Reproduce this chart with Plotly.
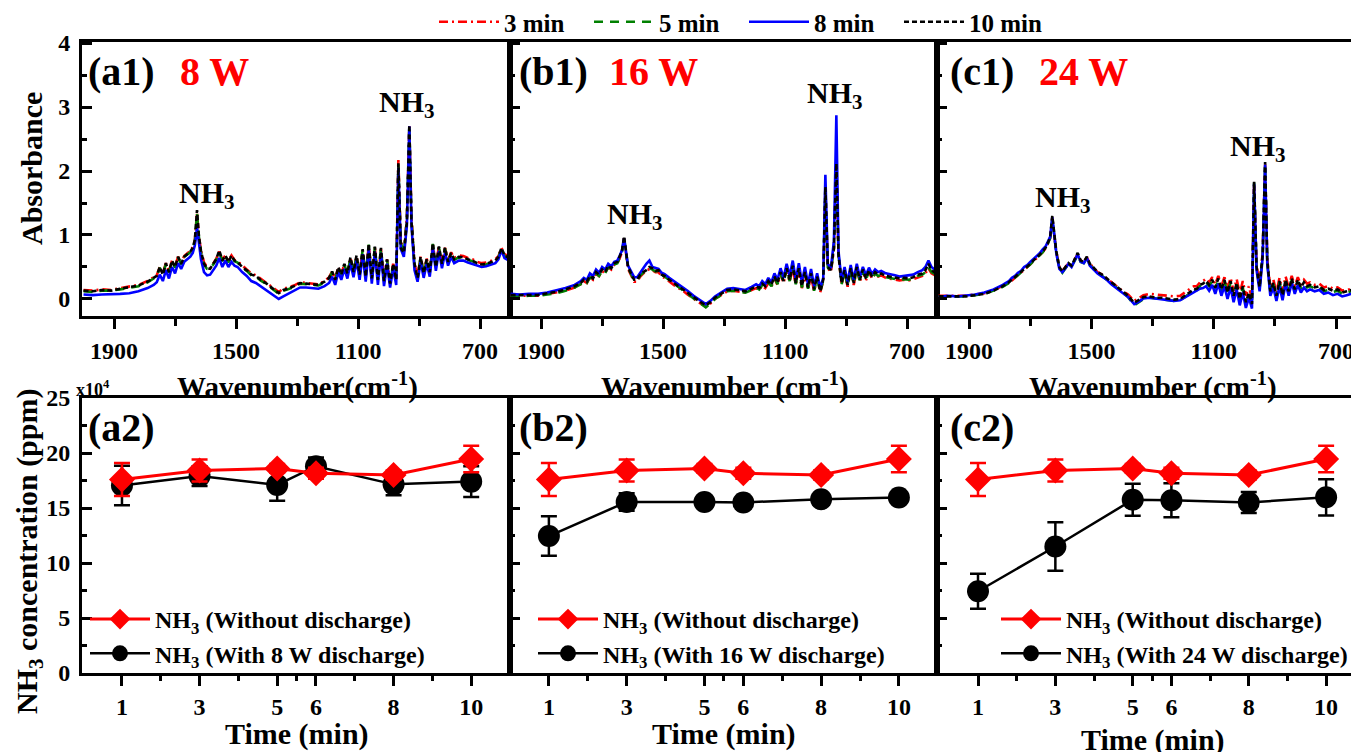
import plotly.graph_objects as go

# ---------------- data ----------------
wavenumber = [
    2000, 1970, 1940, 1910, 1880, 1850, 1820, 1790,
    1770, 1760, 1750, 1740, 1730, 1720, 1710, 1700, 1690, 1680, 1670, 1660, 1650, 1642, 1635,
    1628, 1622, 1615, 1605, 1595, 1585, 1575, 1565, 1555, 1545, 1535, 1525, 1515, 1505, 1495, 1480, 1465, 1450, 1435, 1420,
    1400, 1380, 1360, 1345, 1330, 1310, 1290, 1270, 1250, 1230, 1210,
    1195, 1185, 1175, 1165, 1155, 1145, 1135, 1125, 1115, 1105, 1095, 1085, 1075, 1065, 1055, 1045, 1035, 1025, 1015, 1005, 995, 985, 975,
    968, 960, 950, 940, 932, 925, 915,
    905, 895, 885, 875, 865, 855, 845, 835, 825, 815, 805, 795, 785,
    770, 755, 740, 725, 710, 695, 680, 665, 650, 640, 630, 620, 605,
]

# (a1) 8 W spectra
a1_3min = [
    0.14, 0.13, 0.15, 0.14, 0.17, 0.19, 0.22, 0.28,
    0.34, 0.37, 0.5, 0.4, 0.56, 0.43, 0.6, 0.51, 0.66, 0.56, 0.67, 0.71, 0.75, 0.81, 0.92,
    1.35, 0.98, 0.76, 0.57, 0.5, 0.48, 0.55, 0.63, 0.74, 0.61, 0.68, 0.6, 0.68, 0.61, 0.59, 0.52, 0.46, 0.4, 0.37, 0.32,
    0.25, 0.17, 0.11, 0.16, 0.18, 0.21, 0.26, 0.25, 0.24, 0.23, 0.28,
    0.34, 0.43, 0.31, 0.5, 0.38, 0.55, 0.41, 0.64, 0.42, 0.67, 0.39, 0.76, 0.36, 0.84, 0.33, 0.8, 0.31, 0.78, 0.29, 0.62, 0.26, 0.55, 0.32,
    2.17, 0.92, 0.74, 1.28, 2.7, 1.28, 0.55,
    0.35, 0.66, 0.42, 0.63, 0.44, 0.85, 0.52, 0.82, 0.57, 0.8, 0.6, 0.73, 0.64,
    0.68, 0.67, 0.64, 0.62, 0.58, 0.56, 0.57, 0.6, 0.62, 0.67, 0.8, 0.7, 0.66,
]
a1_5min = [
    0.12, 0.11, 0.13, 0.13, 0.15, 0.17, 0.2, 0.26,
    0.32, 0.35, 0.49, 0.37, 0.55, 0.41, 0.59, 0.49, 0.65, 0.54, 0.66, 0.69, 0.73, 0.79, 0.9,
    1.33, 0.98, 0.73, 0.54, 0.47, 0.46, 0.54, 0.61, 0.73, 0.59, 0.67, 0.57, 0.67, 0.59, 0.57, 0.49, 0.44, 0.37, 0.35, 0.29,
    0.23, 0.15, 0.08, 0.13, 0.15, 0.19, 0.24, 0.23, 0.22, 0.21, 0.26,
    0.32, 0.42, 0.29, 0.49, 0.37, 0.54, 0.39, 0.64, 0.41, 0.67, 0.37, 0.77, 0.34, 0.85, 0.31, 0.81, 0.29, 0.79, 0.27, 0.61, 0.23, 0.54, 0.29,
    2.1, 0.88, 0.71, 1.25, 2.71, 1.25, 0.5,
    0.32, 0.65, 0.39, 0.61, 0.41, 0.86, 0.49, 0.81, 0.54, 0.79, 0.57, 0.71, 0.61,
    0.65, 0.64, 0.61, 0.59, 0.55, 0.53, 0.54, 0.57, 0.59, 0.65, 0.79, 0.67, 0.63,
]
a1_8min = [
    0.07, 0.06, 0.07, 0.07, 0.08, 0.09, 0.12, 0.17,
    0.22, 0.26, 0.38, 0.28, 0.45, 0.32, 0.5, 0.4, 0.56, 0.47, 0.58, 0.62, 0.66, 0.72, 0.84,
    1.12, 0.9, 0.62, 0.42, 0.37, 0.38, 0.46, 0.52, 0.64, 0.5, 0.6, 0.5, 0.58, 0.52, 0.5, 0.42, 0.36, 0.28, 0.25, 0.2,
    0.14, 0.06, 0.0, 0.04, 0.08, 0.13, 0.18, 0.18, 0.17, 0.16, 0.2,
    0.25, 0.35, 0.22, 0.42, 0.3, 0.47, 0.32, 0.56, 0.34, 0.6, 0.3, 0.7, 0.27, 0.78, 0.24, 0.74, 0.22, 0.72, 0.2, 0.55, 0.18, 0.48, 0.22,
    2.05, 0.78, 0.66, 1.15, 2.7, 1.15, 0.45,
    0.27, 0.58, 0.33, 0.55, 0.35, 0.8, 0.44, 0.75, 0.48, 0.72, 0.52, 0.66, 0.56,
    0.6, 0.6, 0.57, 0.55, 0.52, 0.5, 0.51, 0.54, 0.56, 0.62, 0.76, 0.64, 0.6,
]
a1_10min = [
    0.13, 0.12, 0.14, 0.13, 0.16, 0.18, 0.21, 0.27,
    0.33, 0.36, 0.5, 0.38, 0.56, 0.42, 0.6, 0.5, 0.66, 0.55, 0.66, 0.7, 0.74, 0.8, 0.92,
    1.39, 1.0, 0.75, 0.55, 0.48, 0.47, 0.55, 0.62, 0.76, 0.6, 0.68, 0.58, 0.68, 0.6, 0.58, 0.5, 0.45, 0.38, 0.36, 0.3,
    0.24, 0.16, 0.09, 0.14, 0.16, 0.2, 0.25, 0.24, 0.23, 0.22, 0.27,
    0.33, 0.43, 0.3, 0.5, 0.38, 0.55, 0.4, 0.65, 0.42, 0.68, 0.38, 0.78, 0.35, 0.86, 0.32, 0.82, 0.3, 0.8, 0.28, 0.62, 0.24, 0.55, 0.3,
    2.12, 0.8, 0.72, 1.2, 2.72, 1.2, 0.55,
    0.33, 0.66, 0.4, 0.62, 0.42, 0.87, 0.5, 0.82, 0.55, 0.8, 0.58, 0.72, 0.62,
    0.66, 0.65, 0.62, 0.6, 0.56, 0.54, 0.55, 0.58, 0.6, 0.66, 0.8, 0.68, 0.64,
]

# (b1) 16 W spectra
b1_3min = [
    0.05, 0.05, 0.06, 0.05, 0.08, 0.1, 0.13, 0.18,
    0.23, 0.28, 0.25, 0.34, 0.3, 0.4, 0.36, 0.44, 0.4, 0.5, 0.46, 0.54, 0.56, 0.64, 0.73,
    0.95, 0.7, 0.47, 0.37, 0.27, 0.27, 0.35, 0.4, 0.43, 0.47, 0.45, 0.42, 0.42, 0.35, 0.33, 0.27, 0.22, 0.17, 0.13, 0.07,
    0.0, -0.06, -0.12, -0.07, 0.0, 0.06, 0.12, 0.13, 0.12, 0.1, 0.14,
    0.17, 0.14, 0.21, 0.17, 0.25, 0.19, 0.32, 0.22, 0.39, 0.25, 0.45, 0.27, 0.49, 0.22, 0.45, 0.17, 0.39, 0.15, 0.37, 0.12, 0.32, 0.1, 0.28,
    1.72, 0.48, 0.42, 0.78, 2.1, 0.68, 0.22,
    0.42, 0.19, 0.45, 0.22, 0.47, 0.27, 0.43, 0.29, 0.42, 0.32, 0.39, 0.35, 0.37,
    0.33, 0.32, 0.3, 0.29, 0.3, 0.29, 0.31, 0.34, 0.36, 0.4, 0.48, 0.4, 0.36,
]
b1_5min = [
    0.05, 0.04, 0.05, 0.05, 0.07, 0.09, 0.13, 0.18,
    0.23, 0.28, 0.25, 0.34, 0.3, 0.4, 0.36, 0.44, 0.4, 0.5, 0.46, 0.54, 0.56, 0.64, 0.73,
    0.96, 0.71, 0.49, 0.39, 0.29, 0.29, 0.37, 0.41, 0.44, 0.48, 0.46, 0.43, 0.44, 0.37, 0.35, 0.29, 0.24, 0.19, 0.14, 0.08,
    0.01, -0.06, -0.13, -0.07, 0.0, 0.06, 0.12, 0.13, 0.12, 0.1, 0.14,
    0.18, 0.15, 0.22, 0.18, 0.26, 0.2, 0.33, 0.23, 0.4, 0.26, 0.46, 0.28, 0.5, 0.23, 0.46, 0.18, 0.4, 0.16, 0.38, 0.13, 0.33, 0.11, 0.29,
    1.74, 0.49, 0.43, 0.79, 2.11, 0.69, 0.23,
    0.43, 0.2, 0.46, 0.23, 0.48, 0.28, 0.44, 0.3, 0.43, 0.33, 0.4, 0.36, 0.38,
    0.34, 0.33, 0.31, 0.3, 0.31, 0.3, 0.32, 0.36, 0.38, 0.42, 0.5, 0.42, 0.38,
]
b1_8min = [
    0.08, 0.07, 0.08, 0.08, 0.1, 0.13, 0.17, 0.22,
    0.28, 0.33, 0.3, 0.4, 0.36, 0.46, 0.41, 0.5, 0.46, 0.55, 0.51, 0.58, 0.6, 0.68, 0.76,
    0.95, 0.72, 0.52, 0.43, 0.34, 0.34, 0.42, 0.48, 0.55, 0.6, 0.5, 0.48, 0.47, 0.41, 0.39, 0.33, 0.28, 0.23, 0.19, 0.13,
    0.05, -0.02, -0.08, -0.03, 0.04, 0.1, 0.16, 0.17, 0.16, 0.14, 0.19,
    0.23, 0.2, 0.28, 0.23, 0.33, 0.26, 0.4, 0.3, 0.48, 0.33, 0.55, 0.36, 0.6, 0.3, 0.56, 0.26, 0.5, 0.23, 0.47, 0.2, 0.4, 0.17, 0.33,
    1.94, 0.55, 0.48, 0.9, 2.87, 0.75, 0.28,
    0.5, 0.26, 0.53, 0.3, 0.55, 0.34, 0.5, 0.37, 0.49, 0.39, 0.46, 0.42, 0.44,
    0.4, 0.39, 0.37, 0.35, 0.36, 0.36, 0.38, 0.42, 0.45, 0.5, 0.6, 0.5, 0.44,
]
b1_10min = [
    0.06, 0.06, 0.07, 0.06, 0.09, 0.11, 0.15, 0.2,
    0.25, 0.3, 0.27, 0.36, 0.32, 0.42, 0.38, 0.46, 0.42, 0.52, 0.48, 0.56, 0.58, 0.66, 0.75,
    0.98, 0.72, 0.5, 0.4, 0.3, 0.3, 0.38, 0.42, 0.45, 0.5, 0.48, 0.44, 0.45, 0.38, 0.36, 0.3, 0.25, 0.2, 0.16, 0.1,
    0.03, -0.04, -0.1, -0.05, 0.02, 0.08, 0.14, 0.15, 0.14, 0.12, 0.16,
    0.2, 0.17, 0.24, 0.2, 0.28, 0.22, 0.35, 0.25, 0.42, 0.28, 0.48, 0.3, 0.52, 0.25, 0.48, 0.2, 0.42, 0.18, 0.4, 0.15, 0.35, 0.12, 0.3,
    1.75, 0.5, 0.45, 0.8, 2.12, 0.7, 0.25,
    0.45, 0.22, 0.48, 0.25, 0.5, 0.3, 0.46, 0.32, 0.45, 0.35, 0.42, 0.38, 0.4,
    0.36, 0.35, 0.33, 0.32, 0.33, 0.32, 0.34, 0.38, 0.4, 0.45, 0.55, 0.45, 0.4,
]

# (c1) 24 W spectra
c1_3min = [
    0.05, 0.05, 0.06, 0.05, 0.07, 0.09, 0.14, 0.2,
    0.25, 0.29, 0.33, 0.37, 0.41, 0.45, 0.49, 0.54, 0.59, 0.63, 0.68, 0.73, 0.79, 0.87, 0.95,
    1.27, 0.98, 0.74, 0.5, 0.44, 0.5, 0.56, 0.53, 0.62, 0.7, 0.6, 0.58, 0.65, 0.55, 0.5, 0.42, 0.38, 0.32, 0.26, 0.2,
    0.13, 0.07, -0.03, 0.01, 0.06, 0.08, 0.07, 0.07, 0.05, 0.04, 0.05,
    0.1, 0.13, 0.17, 0.2, 0.2, 0.26, 0.28, 0.32, 0.26, 0.34, 0.23, 0.36, 0.2, 0.34, 0.16, 0.33, 0.12, 0.31, 0.08, 0.28, 0.05, 0.2, 0.0,
    1.8, 0.52, 0.24, 0.72, 2.1, 0.62, 0.18,
    0.3, 0.1, 0.33, 0.12, 0.35, 0.18, 0.36, 0.2, 0.34, 0.22, 0.3, 0.24, 0.26,
    0.22, 0.24, 0.18, 0.2, 0.16, 0.18, 0.13, 0.14, 0.16, 0.22, 0.3, 0.34, 0.34,
]
c1_5min = [
    0.04, 0.04, 0.05, 0.04, 0.06, 0.08, 0.13, 0.19,
    0.25, 0.29, 0.33, 0.37, 0.41, 0.45, 0.49, 0.54, 0.59, 0.63, 0.68, 0.73, 0.79, 0.87, 0.95,
    1.25, 0.97, 0.73, 0.48, 0.41, 0.48, 0.54, 0.51, 0.6, 0.68, 0.58, 0.56, 0.63, 0.53, 0.48, 0.4, 0.36, 0.3, 0.24, 0.18,
    0.1, 0.03, -0.1, -0.05, 0.0, 0.02, 0.01, 0.0, -0.02, -0.03, -0.02,
    0.03, 0.06, 0.1, 0.13, 0.14, 0.2, 0.22, 0.26, 0.2, 0.28, 0.16, 0.3, 0.13, 0.28, 0.08, 0.26, 0.03, 0.23, -0.02, 0.18, -0.07, 0.08, -0.1,
    1.82, 0.48, 0.17, 0.68, 2.12, 0.58, 0.1,
    0.23, 0.03, 0.26, 0.04, 0.28, 0.1, 0.3, 0.13, 0.28, 0.16, 0.24, 0.18, 0.2,
    0.16, 0.18, 0.12, 0.14, 0.11, 0.13, 0.08, 0.1, 0.12, 0.18, 0.28, 0.38, 0.37,
]
c1_8min = [
    0.03, 0.05, 0.04, 0.05, 0.07, 0.1, 0.15, 0.22,
    0.28, 0.33, 0.36, 0.41, 0.44, 0.5, 0.53, 0.58, 0.62, 0.66, 0.71, 0.77, 0.82, 0.9, 0.97,
    1.28, 0.98, 0.72, 0.47, 0.42, 0.48, 0.55, 0.5, 0.6, 0.7, 0.58, 0.56, 0.64, 0.52, 0.47, 0.4, 0.35, 0.3, 0.23, 0.17,
    0.1, 0.03, -0.08, -0.04, 0.01, 0.02, 0.01, 0.0, -0.02, -0.03, -0.02,
    0.02, 0.05, 0.08, 0.1, 0.12, 0.16, 0.17, 0.2, 0.13, 0.22, 0.08, 0.24, 0.05, 0.2, 0.0, 0.18, -0.05, 0.15, -0.1, 0.1, -0.14, 0.02, -0.15,
    1.8, 0.45, 0.12, 0.65, 2.1, 0.55, 0.05,
    0.18, -0.03, 0.2, -0.02, 0.24, 0.05, 0.26, 0.08, 0.22, 0.1, 0.18, 0.12, 0.15,
    0.12, 0.14, 0.08, 0.1, 0.06, 0.08, 0.04, 0.06, 0.08, 0.14, 0.24, 0.3, 0.3,
]
c1_10min = [
    0.04, 0.04, 0.05, 0.04, 0.06, 0.08, 0.13, 0.2,
    0.26, 0.3, 0.34, 0.38, 0.42, 0.46, 0.5, 0.55, 0.6, 0.64, 0.69, 0.74, 0.8, 0.88, 0.96,
    1.3, 1.0, 0.75, 0.5, 0.43, 0.5, 0.56, 0.52, 0.62, 0.72, 0.6, 0.58, 0.66, 0.55, 0.5, 0.42, 0.38, 0.32, 0.26, 0.2,
    0.12, 0.05, -0.06, -0.02, 0.03, 0.04, 0.02, 0.02, 0.0, -0.01, 0.0,
    0.05, 0.08, 0.12, 0.15, 0.16, 0.22, 0.24, 0.28, 0.22, 0.3, 0.18, 0.32, 0.15, 0.3, 0.1, 0.28, 0.05, 0.25, 0.0, 0.2, -0.05, 0.1, -0.08,
    1.83, 0.5, 0.19, 0.7, 2.14, 0.6, 0.12,
    0.25, 0.05, 0.28, 0.06, 0.3, 0.12, 0.32, 0.15, 0.3, 0.18, 0.26, 0.2, 0.22,
    0.18, 0.2, 0.14, 0.16, 0.13, 0.15, 0.1, 0.12, 0.14, 0.2, 0.3, 0.35, 0.35,
]

# NH3 concentration (x10^4 ppm) vs time
time_min = [1, 3, 5, 6, 8, 10]
no_discharge = [17.6, 18.4, 18.6, 18.15, 18.0, 19.45]
no_discharge_err = [1.5, 1.0, 0.4, 0.5, 0.4, 1.2]
w8_conc = [17.05, 17.9, 17.1, 18.8, 17.15, 17.4]
w8_err = [1.8, 0.9, 1.45, 0.8, 1.0, 1.4]
w16_conc = [12.45, 15.55, 15.55, 15.5, 15.8, 15.95]
w16_err = [1.8, 0.8, 0.5, 0.5, 0.5, 0.5]
w24_conc = [7.43, 11.5, 15.75, 15.7, 15.5, 15.97]
w24_err = [1.6, 2.2, 1.45, 1.55, 0.95, 1.65]

time_labels = ["1", "3", "5", "6", "8", "10"]
wn_ticks = [1900, 1500, 1100, 700]

# ---------------- layout helpers ----------------
# the page body has an 8 px margin, so the figure is drawn 8 px smaller
W, H = 1351, 744
L, R, T, B = 74, 0, 34, 79
PW, PH = W - L - R, H - T - B
FONT = "Liberation Serif, Times New Roman, serif"


def px(x):  # screen x (reference pixels) -> paper
    return (x - 82) / PW


def py(y):  # screen y (reference pixels) -> paper
    return (673 - y) / PH


col_dom = [[0, px(510)], [px(510), px(937)], [px(937), 1.0]]
top_dom = [py(316), 1.0]
bot_dom = [0.0, py(398)]

fig = go.Figure()

spec_style = [
    ("3 min", "red", "9px,4px,2px,4px"),
    ("5 min", "green", "9px,7px"),
    ("8 min", "blue", "solid"),
    ("10 min", "black", "5px,3px"),
]
spectra = [
    [a1_3min, a1_5min, a1_8min, a1_10min],
    [b1_3min, b1_5min, b1_8min, b1_10min],
    [c1_3min, c1_5min, c1_8min, c1_10min],
]
for p, series in enumerate(spectra):
    ax = "" if p == 0 else str(p + 1)
    for (name, color, dash), vals in zip(spec_style, series):
        fig.add_trace(go.Scatter(
            x=wavenumber, y=vals, mode="lines", name=name,
            line=dict(color=color, width=2.6, dash=dash),
            xaxis="x" + ax, yaxis="y" + ax,
            showlegend=(p == 0), legend="legend",
        ))

conc_sets = [(w8_conc, w8_err, "8"), (w16_conc, w16_err, "16"), (w24_conc, w24_err, "24")]
for p, (vals, errs, watt) in enumerate(conc_sets):
    ax = str(p + 4)
    lg = "legend" + str(p + 2)
    fig.add_trace(go.Scatter(
        x=time_min, y=vals, mode="lines+markers",
        name="NH<sub>3</sub> (With %s W discharge)" % watt,
        line=dict(color="black", width=2.5),
        marker=dict(symbol="circle", size=22, color="black"),
        error_y=dict(type="data", array=errs, visible=True, color="black", thickness=2.5, width=8),
        xaxis="x" + ax, yaxis="y" + ax, legend=lg, legendrank=2,
    ))
    fig.add_trace(go.Scatter(
        x=time_min, y=no_discharge, mode="lines+markers",
        name="NH<sub>3</sub> (Without discharge)",
        line=dict(color="red", width=3),
        marker=dict(symbol="diamond", size=20, color="red"),
        error_y=dict(type="data", array=no_discharge_err, visible=True, color="red", thickness=2.5, width=8),
        xaxis="x" + ax, yaxis="y" + ax, legend=lg, legendrank=1,
    ))

tickfont = dict(family=FONT, size=24, color="black", weight="bold")
base_axis = dict(showline=True, linewidth=3, linecolor="black", showgrid=False,
                 zeroline=False, tickwidth=3, tickcolor="black", tickfont=tickfont)

x_top_ranges = [[2005, 602], [2002, 602], [2005, 625]]
x_bot_ranges = [[-0.03, 11.0], [0.0, 10.98], [-0.06, 10.85]]
layout_axes = {}
for i in range(3):
    n = "" if i == 0 else str(i + 1)
    layout_axes["xaxis" + n] = dict(
        base_axis, domain=col_dom[i], anchor="y" + n, range=x_top_ranges[i],
        mirror=True, ticks="outside", ticklen=10, tickmode="array",
        tickvals=wn_ticks, ticktext=[str(v) for v in wn_ticks], ticklabelstandoff=1,
        minor=dict(tickmode="array", tickvals=[1700, 1300, 900], ticks="outside",
                   ticklen=7, tickwidth=3, tickcolor="black", showgrid=False),
    )
    layout_axes["yaxis" + n] = dict(
        base_axis, domain=top_dom, anchor="x" + n, range=[-0.266, 4.016],
        mirror=(i < 2), ticks="inside", ticklen=10, tickmode="array",
        tickvals=[0, 1, 2, 3, 4], showticklabels=(i == 0), ticklabelstandoff=4,
        minor=dict(tickmode="array", tickvals=[0.5, 1.5, 2.5, 3.5], ticks="inside",
                   ticklen=5, tickwidth=3, tickcolor="black", showgrid=False),
    )
    m = str(i + 4)
    layout_axes["xaxis" + m] = dict(
        base_axis, domain=col_dom[i], anchor="y" + m, range=x_bot_ranges[i],
        mirror=True, ticks="outside", ticklen=10, tickmode="array",
        tickvals=time_min, ticktext=time_labels, ticklabelstandoff=0,
        minor=dict(tickmode="array", tickvals=[2, 4, 5.5, 7, 9], ticks="outside",
                   ticklen=5, tickwidth=3, tickcolor="black", showgrid=False),
    )
    layout_axes["yaxis" + m] = dict(
        base_axis, domain=bot_dom, anchor="x" + m, range=[0, 25],
        mirror=(i < 2), ticks="inside", ticklen=10, tickmode="array",
        tickvals=[0, 5, 10, 15, 20, 25], showticklabels=(i == 0), ticklabelstandoff=4,
        minor=dict(tickmode="array", tickvals=[2.5, 7.5, 12.5, 17.5, 22.5], ticks="inside",
                   ticklen=5, tickwidth=3, tickcolor="black", showgrid=False),
    )


def ann(x, y, text, size, color="black", angle=0, xanchor="center"):
    return dict(x=px(x), y=py(y), xref="paper", yref="paper", text=text, showarrow=False,
                xanchor=xanchor, yanchor="middle", textangle=angle,
                font=dict(family=FONT, size=size, color=color, weight="bold"))


annotations = [
    ann(86, 72, "(a1)", 40, xanchor="left"), ann(178, 72, "8 W", 40, "red", xanchor="left"),
    ann(517, 72, "(b1)", 40, xanchor="left"), ann(607, 72, "16 W", 40, "red", xanchor="left"),
    ann(948, 72, "(c1)", 40, xanchor="left"), ann(1037, 72, "24 W", 40, "red", xanchor="left"),
    ann(86, 427, "(a2)", 40, xanchor="left"), ann(517, 427, "(b2)", 40, xanchor="left"),
    ann(948, 427, "(c2)", 40, xanchor="left"),
    ann(207, 195, "NH<sub>3</sub>", 30), ann(407, 104, "NH<sub>3</sub>", 30),
    ann(635, 216, "NH<sub>3</sub>", 30), ann(835, 95, "NH<sub>3</sub>", 30),
    ann(1063, 199, "NH<sub>3</sub>", 30), ann(1258, 148, "NH<sub>3</sub>", 30),
    ann(31, 169, "Absorbance", 30, angle=-90),
    ann(29, 552, "NH<sub>3</sub> concentration (ppm)", 30, angle=-90),
    ann(297, 385, "Wavenumber(cm<sup>-1</sup>)", 29),
    ann(725, 385, "Wavenumber (cm<sup>-1</sup>)", 29),
    ann(1153, 385, "Wavenumber (cm<sup>-1</sup>)", 29),
    ann(297, 734, "Time (min)", 30), ann(724, 734, "Time (min)", 30),
    ann(1153, 740, "Time (min)", 30),
    ann(93, 388, "x10<sup>4</sup>", 18),
]

legfont = dict(family=FONT, size=24, color="black", weight="bold")
fig.update_layout(
    width=W, height=H, autosize=False,
    margin=dict(l=L, r=R, t=T, b=B, autoexpand=False),
    paper_bgcolor="white", plot_bgcolor="white",
    font=dict(family=FONT, color="black", weight="bold"),
    annotations=annotations,
    legend=dict(orientation="h", x=px(434), y=py(22), xanchor="left", yanchor="middle",
                font=dict(family=FONT, size=25, color="black", weight="bold"),
                bgcolor="rgba(0,0,0,0)", itemwidth=60, entrywidth=80, entrywidthmode="pixels"),
    legend2=dict(x=px(85), y=py(676), xanchor="left", yanchor="bottom", font=legfont,
                 bgcolor="rgba(0,0,0,0)", traceorder="normal", itemwidth=60),
    legend3=dict(x=px(533), y=py(676), xanchor="left", yanchor="bottom", font=legfont,
                 bgcolor="rgba(0,0,0,0)", traceorder="normal", itemwidth=60),
    legend4=dict(x=px(996), y=py(676), xanchor="left", yanchor="bottom", font=legfont,
                 bgcolor="rgba(0,0,0,0)", traceorder="normal", itemwidth=60),
    **layout_axes,
)

fig.write_html("out.html")
